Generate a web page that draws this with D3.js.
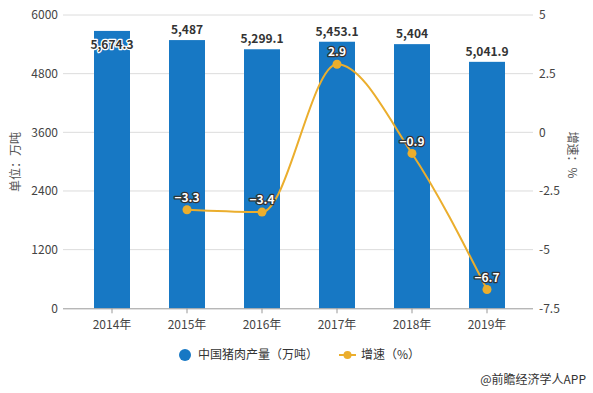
<!DOCTYPE html>
<html lang="zh">
<head>
<meta charset="utf-8">
<script src="https://d3js.org/d3.v7.min.js"></script>
<style>
  body { margin: 0; background: #fff; }
  svg { display: block; font-family: "Noto Sans CJK SC", "Microsoft YaHei", sans-serif; }
</style>
</head>
<body>
<div id="chart"></div>
<script>
// data
var years = ["2014年", "2015年", "2016年", "2017年", "2018年", "2019年"];
var output = [5674.3, 5487, 5299.1, 5453.1, 5404, 5041.9];
var outputLabels = ["5,674.3", "5,487", "5,299.1", "5,453.1", "5,404", "5,041.9"];
var growth = [null, -3.3, -3.4, 2.9, -0.9, -6.7];
var leftTicks = [0, 1200, 2400, 3600, 4800, 6000];
var rightTicks = [-7.5, -5, -2.5, 0, 2.5, 5];

var W = 593, H = 393;
var barColor = "#1778C4", lineColor = "#EBAE2D";

var svg = d3.select("#chart").append("svg")
  .attr("width", W).attr("height", H);

var x = d3.scaleBand().domain(years).range([74.5, 524.5])
  .paddingInner(0.52).paddingOuter(0.26);
var yL = d3.scaleLinear().domain([0, 6000]).range([308.3, 15]);
var yR = d3.scaleLinear().domain([-7.5, 5]).range([308.3, 15]);
var cx = function(d) { return x(d) + x.bandwidth() / 2; };

// grid
svg.append("g").selectAll("line").data(leftTicks.slice(1)).enter().append("line")
  .attr("x1", 63).attr("x2", 533)
  .attr("y1", function(d) { return yL(d); }).attr("y2", function(d) { return yL(d); })
  .attr("stroke", "#dcdcdc").attr("stroke-width", 1);

// left axis labels
svg.append("g").selectAll("text").data(leftTicks).enter().append("text")
  .attr("x", 58).attr("y", function(d) { return yL(d); })
  .attr("dy", "0.35em").attr("text-anchor", "end")
  .attr("font-size", 12).attr("fill", "#444")
  .text(function(d) { return d; });

// right axis labels
svg.append("g").selectAll("text").data(rightTicks).enter().append("text")
  .attr("x", 539).attr("y", function(d) { return yR(d); })
  .attr("dy", "0.35em").attr("text-anchor", "start")
  .attr("font-size", 12).attr("fill", "#444")
  .text(function(d) { return d; });

// axis titles
svg.append("text").attr("transform", "translate(16,162) rotate(-90)")
  .attr("text-anchor", "middle").attr("dy", "0.35em")
  .attr("font-size", 12).attr("fill", "#555").text("单位：万吨");
svg.append("text").attr("transform", "translate(572,155) rotate(90)")
  .attr("text-anchor", "middle").attr("dy", "0.35em")
  .attr("font-size", 12).attr("fill", "#555").text("增速：%");

// bars
svg.append("g").selectAll("rect").data(output).enter().append("rect")
  .attr("x", function(d, i) { return x(years[i]); })
  .attr("y", function(d) { return yL(d); })
  .attr("width", x.bandwidth())
  .attr("height", function(d) { return yL(0) - yL(d); })
  .attr("fill", barColor);

// x axis
svg.append("line").attr("x1", 63).attr("x2", 533)
  .attr("y1", yL(0) + 0.5).attr("y2", yL(0) + 0.5)
  .attr("stroke", "#999");
svg.append("g").selectAll("line").data(years).enter().append("line")
  .attr("x1", cx).attr("x2", cx)
  .attr("y1", yL(0)).attr("y2", yL(0) + 5)
  .attr("stroke", "#999");
svg.append("g").selectAll("text").data(years).enter().append("text")
  .attr("x", cx).attr("y", yL(0) + 16)
  .attr("dy", "0.35em").attr("text-anchor", "middle")
  .attr("font-size", 12).attr("fill", "#444")
  .text(function(d) { return d; });

// line
var pts = [];
growth.forEach(function(g, i) { if (g !== null) pts.push({ year: years[i], v: g }); });

svg.append("path").datum(pts)
  .attr("fill", "none").attr("stroke", lineColor).attr("stroke-width", 2)
  .attr("d", d3.line().x(function(d) { return cx(d.year); })
    .y(function(d) { return yR(d.v); }).curve(d3.curveMonotoneX));

svg.append("g").selectAll("circle").data(pts).enter().append("circle")
  .attr("cx", function(d) { return cx(d.year); })
  .attr("cy", function(d) { return yR(d.v); })
  .attr("r", 4.5).attr("fill", lineColor);

// bar labels
svg.append("g").selectAll("text").data(output).enter().append("text")
  .attr("x", function(d, i) { return cx(years[i]); })
  .attr("y", function(d) { var t = yL(d); return t - 10 < 28 ? t + 14 : t - 10; })
  .attr("dy", "0.35em").attr("text-anchor", "middle")
  .attr("font-size", 12).attr("font-weight", "bold")
  .attr("fill", "#333").attr("stroke", "#fff").attr("stroke-width", 2.5)
  .attr("paint-order", "stroke").attr("stroke-linejoin", "round")
  .text(function(d, i) { return outputLabels[i]; });

// line labels
svg.append("g").selectAll("text").data(pts).enter().append("text")
  .attr("x", function(d) { return cx(d.year); })
  .attr("y", function(d) { return yR(d.v) - 12; })
  .attr("dy", "0.35em").attr("text-anchor", "middle")
  .attr("font-size", 12).attr("font-weight", "bold")
  .attr("fill", "#fff").attr("stroke", "#333").attr("stroke-width", 2.5)
  .attr("paint-order", "stroke").attr("stroke-linejoin", "round")
  .text(function(d) { return String(d.v).replace("-", "\u2212"); });

// legend
var lg = svg.append("g");
lg.append("circle").attr("cx", 185).attr("cy", 355).attr("r", 6).attr("fill", barColor);
lg.append("text").attr("x", 198).attr("y", 355).attr("dy", "0.35em")
  .attr("font-size", 12).attr("fill", "#333").text("中国猪肉产量（万吨）");
lg.append("line").attr("x1", 339).attr("x2", 356).attr("y1", 355).attr("y2", 355)
  .attr("stroke", lineColor).attr("stroke-width", 2);
lg.append("circle").attr("cx", 347.5).attr("cy", 355).attr("r", 4).attr("fill", lineColor);
lg.append("text").attr("x", 361).attr("y", 355).attr("dy", "0.35em")
  .attr("font-size", 12).attr("fill", "#333").text("增速（%）");

// source mark
svg.append("text").attr("x", 586).attr("y", 380).attr("dy", "0.35em")
  .attr("text-anchor", "end").attr("font-size", 12).attr("fill", "#333")
  .text("@前瞻经济学人APP");
</script>
</body>
</html>
